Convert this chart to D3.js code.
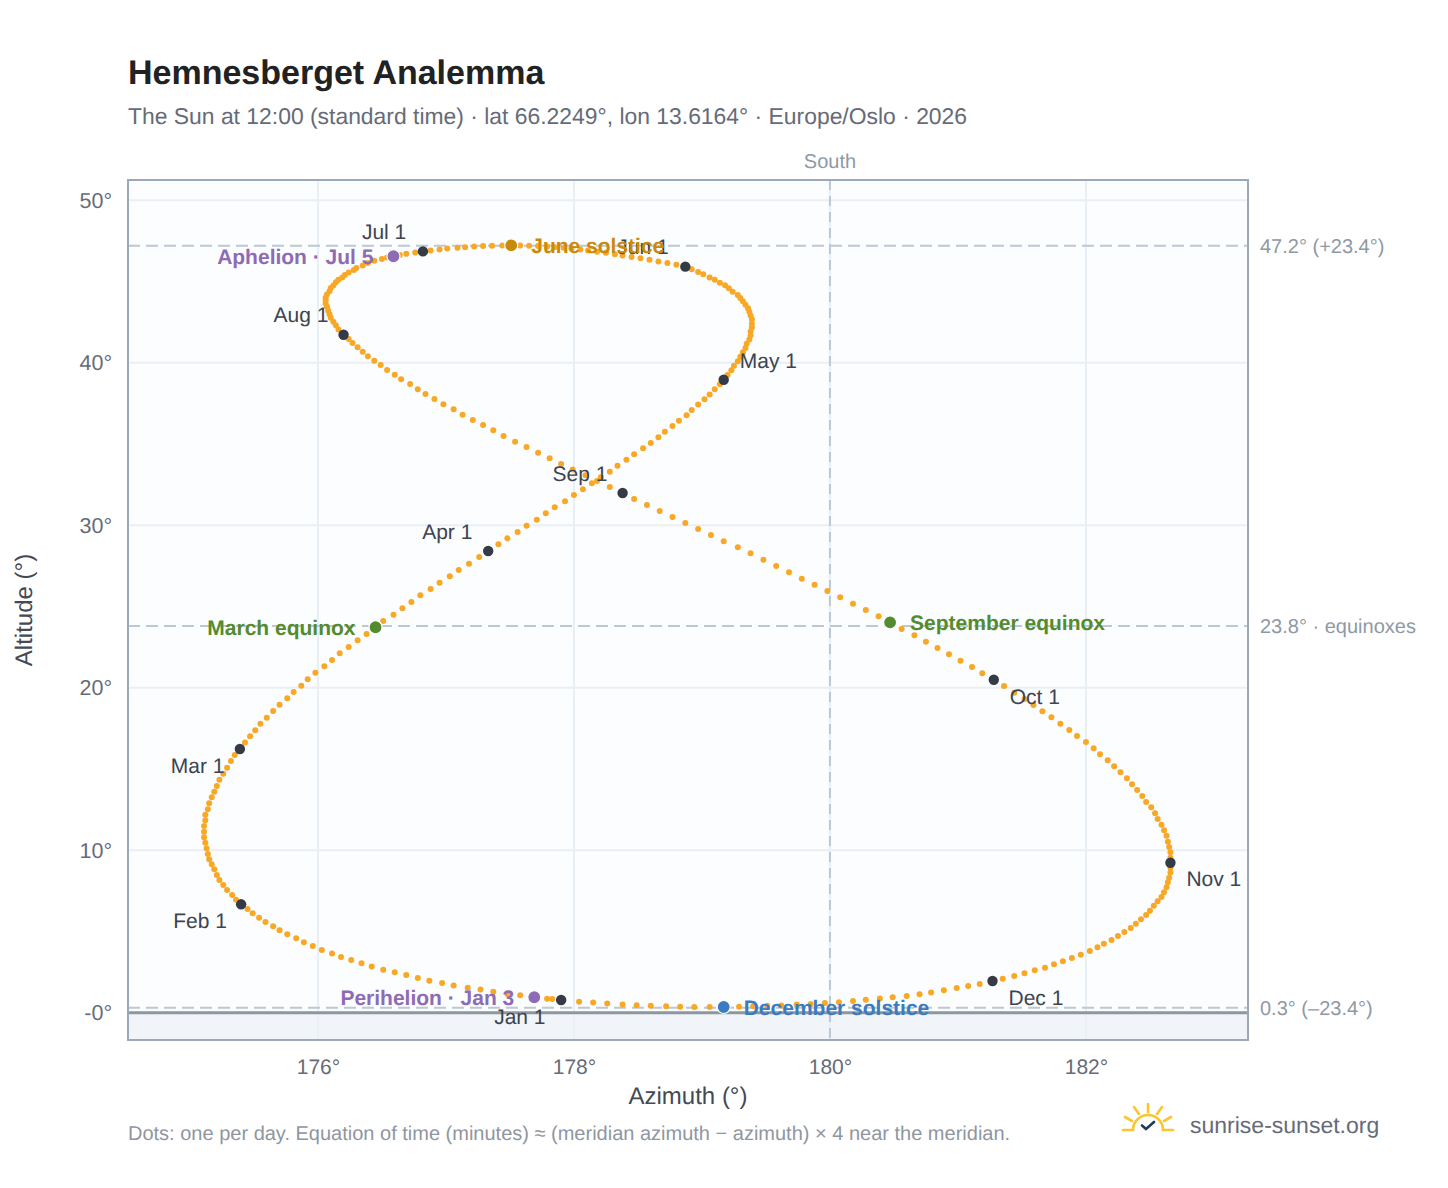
<!DOCTYPE html>
<html><head><meta charset="utf-8">
<script src="https://d3js.org/d3.v7.min.js"></script>
<style>html,body{margin:0;padding:0;background:#fff}svg{display:block}text{font-family:"Liberation Sans",Arial,sans-serif;text-rendering:geometricPrecision}</style>
</head><body><svg id="c" width="1448" height="1188"></svg>
<script>
const azJan=[177.90,177.79,177.69,177.58,177.48,177.37,177.27,177.17,177.06,176.97,176.87,176.78,176.69,176.60,176.51,176.42,176.34,176.26,176.18,176.11,176.03,175.96,175.89,175.83,175.76,175.70,175.65,175.59,175.54,175.49,175.45];
const altJan=[0.78,0.86,0.95,1.07,1.15,1.29,1.42,1.54,1.68,1.83,1.97,2.14,2.32,2.49,2.65,2.85,3.04,3.24,3.43,3.65,3.86,4.10,4.33,4.58,4.82,5.07,5.32,5.58,5.85,6.12,6.38];
const azFeb=[175.40,175.36,175.33,175.29,175.26,175.23,175.21,175.19,175.17,175.15,175.14,175.13,175.12,175.11,175.11,175.11,175.12,175.12,175.14,175.15,175.17,175.19,175.21,175.23,175.26,175.29,175.32,175.35];
const altFeb=[6.67,6.95,7.24,7.55,7.86,8.17,8.47,8.82,9.13,9.44,9.77,10.12,10.46,10.79,11.14,11.49,11.84,12.18,12.52,12.89,13.26,13.60,13.95,14.34,14.71,15.08,15.49,15.86];
const azMar=[175.39,175.43,175.47,175.51,175.55,175.60,175.65,175.70,175.76,175.81,175.87,175.92,175.98,176.05,176.11,176.17,176.24,176.31,176.38,176.45,176.51,176.59,176.66,176.73,176.80,176.88,176.95,177.03,177.10,177.18,177.26];
const altMar=[16.23,16.62,17.01,17.38,17.78,18.15,18.57,18.95,19.35,19.74,20.12,20.52,20.92,21.32,21.70,22.12,22.50,22.92,23.30,23.72,24.10,24.49,24.89,25.27,25.69,26.07,26.46,26.86,27.24,27.63,28.04];
const azApr=[177.33,177.41,177.48,177.56,177.63,177.71,177.78,177.85,177.93,178.00,178.07,178.14,178.21,178.28,178.34,178.41,178.47,178.54,178.60,178.66,178.71,178.77,178.82,178.88,178.92,178.97,179.02,179.06,179.10,179.14];
const altApr=[28.41,28.82,29.19,29.58,29.97,30.34,30.73,31.10,31.47,31.86,32.21,32.58,32.95,33.29,33.66,34.03,34.36,34.73,35.06,35.41,35.75,36.10,36.43,36.76,37.09,37.42,37.75,38.05,38.36,38.67];
const azMay=[179.17,179.20,179.23,179.25,179.28,179.30,179.32,179.34,179.35,179.37,179.38,179.38,179.39,179.39,179.39,179.38,179.37,179.36,179.34,179.32,179.30,179.28,179.24,179.21,179.18,179.14,179.10,179.06,179.01,178.97,178.92];
const altMay=[38.95,39.24,39.53,39.81,40.09,40.37,40.64,40.90,41.16,41.42,41.67,41.92,42.16,42.40,42.67,42.90,43.13,43.35,43.57,43.78,43.98,44.17,44.37,44.58,44.76,44.92,45.11,45.25,45.44,45.58,45.75];
const azJun=[178.87,178.80,178.73,178.66,178.59,178.52,178.45,178.38,178.32,178.25,178.18,178.11,178.05,177.98,177.92,177.85,177.79,177.72,177.65,177.58,177.51,177.44,177.36,177.29,177.22,177.15,177.09,177.01,176.95,176.88];
const altJun=[45.91,46.02,46.13,46.23,46.33,46.42,46.51,46.60,46.68,46.76,46.83,46.90,46.96,47.02,47.07,47.11,47.15,47.18,47.20,47.21,47.22,47.21,47.20,47.18,47.15,47.11,47.07,47.02,46.96,46.90];
const azJul=[176.82,176.76,176.69,176.64,176.59,176.54,176.50,176.44,176.39,176.35,176.30,176.28,176.24,176.21,176.19,176.16,176.14,176.12,176.10,176.09,176.07,176.06,176.06,176.06,176.07,176.08,176.09,176.10,176.12,176.14,176.16];
const altJul=[46.85,46.78,46.70,46.62,46.55,46.48,46.38,46.27,46.13,45.98,45.83,45.70,45.55,45.40,45.25,45.10,44.95,44.75,44.60,44.40,44.20,44.00,43.85,43.65,43.45,43.20,42.98,42.77,42.52,42.30,42.05];
const azAug=[176.20,176.24,176.27,176.31,176.35,176.39,176.44,176.49,176.54,176.60,176.65,176.72,176.78,176.84,176.91,176.98,177.06,177.13,177.21,177.29,177.37,177.45,177.54,177.63,177.72,177.81,177.90,177.99,178.09,178.18,178.28];
const altAug=[41.72,41.46,41.21,40.95,40.68,40.39,40.12,39.86,39.55,39.26,38.98,38.69,38.36,38.07,37.77,37.44,37.13,36.80,36.47,36.17,35.84,35.49,35.14,34.81,34.46,34.12,33.77,33.42,33.07,32.72,32.35];
const azSep=[178.38,178.47,178.57,178.67,178.77,178.87,178.97,179.07,179.17,179.28,179.38,179.48,179.58,179.68,179.78,179.88,179.98,180.08,180.18,180.28,180.38,180.47,180.56,180.66,180.75,180.84,180.93,181.02,181.11,181.19];
const altSep=[31.98,31.61,31.24,30.87,30.50,30.14,29.77,29.40,29.01,28.64,28.27,27.88,27.49,27.10,26.71,26.34,25.95,25.56,25.17,24.78,24.39,24.02,23.61,23.22,22.83,22.44,22.06,21.66,21.27,20.89];
const azOct=[181.28,181.36,181.44,181.52,181.59,181.66,181.73,181.80,181.87,181.93,182.00,182.06,182.11,182.17,182.22,182.27,182.32,182.36,182.40,182.44,182.47,182.51,182.54,182.56,182.59,182.61,182.63,182.64,182.65,182.66,182.66];
const altOct=[20.49,20.10,19.69,19.30,18.94,18.55,18.18,17.78,17.40,17.03,16.66,16.27,15.90,15.53,15.16,14.79,14.42,14.06,13.70,13.34,12.97,12.64,12.27,11.92,11.57,11.22,10.89,10.52,10.20,9.87,9.54];
const azNov=[182.66,182.66,182.66,182.65,182.64,182.63,182.61,182.59,182.56,182.53,182.50,182.47,182.43,182.39,182.35,182.30,182.25,182.20,182.14,182.09,182.03,181.96,181.89,181.82,181.75,181.68,181.60,181.52,181.44,181.35];
const altNov=[9.23,8.92,8.62,8.31,8.02,7.72,7.41,7.12,6.86,6.58,6.28,6.01,5.75,5.48,5.21,4.97,4.72,4.47,4.25,4.02,3.80,3.57,3.37,3.16,2.98,2.77,2.61,2.42,2.26,2.09];
const azDec=[181.27,181.17,181.08,180.99,180.89,180.79,180.70,180.60,180.49,180.39,180.28,180.18,180.07,179.96,179.85,179.74,179.62,179.51,179.40,179.29,179.17,179.06,178.94,178.83,178.72,178.60,178.49,178.38,178.26,178.15,178.04];
const altDec=[1.95,1.77,1.64,1.52,1.38,1.25,1.13,1.03,0.95,0.87,0.79,0.72,0.65,0.59,0.54,0.50,0.45,0.42,0.39,0.37,0.35,0.35,0.35,0.37,0.39,0.42,0.46,0.50,0.56,0.62,0.68];
const azExtra=[177.83];
const altExtra=[0.84];

const xTickValues=[176,178,180,182];
const yTickValues=[0,10,20,30,40,50];
const yTickLabels=["-0°","10°","20°","30°","40°","50°"];
const refAltitudes=[47.2,23.8,0.3];
const refLabels=["47.2° (+23.4°)","23.8° · equinoxes","0.3° (–23.4°)"];
const monthNames=["Jan","Feb","Mar","Apr","May","Jun","Jul","Aug","Sep","Oct","Nov","Dec"];
const monthOffsets=[[-67,24],[-68,24],[-69,24],[-66,-12],[16,-12],[-68,-13],[-61,-12],[-70,-13],[-70,-12],[16,24],[16,23],[16,24]];
const specialNames=["Perihelion · Jan 3","March equinox","June solstice","Aphelion · Jul 5","September equinox","December solstice"];
const specialMonth=[0,2,5,6,8,11];
const specialDay=[3,20,21,5,22,21];
const specialColor=["#8e6bb5","#558b2f","#c98a0a","#8e6bb5","#558b2f","#3b7bbf"];
const specialAnchor=["end","end","start","end","start","start"];

const azs=[azJan,azFeb,azMar,azApr,azMay,azJun,azJul,azAug,azSep,azOct,azNov,azDec];
const alts=[altJan,altFeb,altMar,altApr,altMay,altJun,altJul,altAug,altSep,altOct,altNov,altDec];
const days=azs.flatMap((a,m)=>a.map((v,i)=>({az:v,alt:alts[m][i]})));
azExtra.forEach((v,i)=>days.push({az:v,alt:altExtra[i]}));

const L=128,R=1248,T=180,B=1040;
const x=d3.scaleLinear().domain([174.516,183.266]).range([L,R]);
const y=d3.scaleLinear().domain([-1.68,51.243]).range([B,T]);
const svg=d3.select("#c");

svg.append("rect").attr("x",L).attr("y",T).attr("width",R-L).attr("height",B-T).attr("fill","#fbfdff");
svg.append("rect").attr("x",L).attr("y",y(0)).attr("width",R-L).attr("height",B-y(0)).attr("fill","#f1f5f9");

const grid=svg.append("g").attr("stroke","#e9eff4").attr("stroke-width",2);
grid.selectAll("line.v").data(xTickValues).join("line").attr("class","v").attr("x1",d=>x(d)).attr("x2",d=>x(d)).attr("y1",T).attr("y2",B);
grid.selectAll("line.h").data(yTickValues).join("line").attr("class","h").attr("x1",L).attr("x2",R).attr("y1",d=>y(d)).attr("y2",d=>y(d));

svg.append("line").attr("x1",x(180)).attr("x2",x(180)).attr("y1",T).attr("y2",B)
  .attr("stroke","#bcc8d4").attr("stroke-width",2).attr("stroke-dasharray","10 6");
svg.selectAll("line.ref").data(refAltitudes).join("line").attr("class","ref")
  .attr("x1",L).attr("x2",R).attr("y1",d=>y(d)).attr("y2",d=>y(d))
  .attr("stroke","#bcc8d4").attr("stroke-width",2).attr("stroke-dasharray","12 6");
svg.append("line").attr("x1",L).attr("x2",R).attr("y1",y(0)).attr("y2",y(0)).attr("stroke","#8e969e").attr("stroke-width",3);
svg.append("rect").attr("x",L).attr("y",T).attr("width",R-L).attr("height",B-T).attr("fill","none").attr("stroke","#9ba8b8").attr("stroke-width",2);

const xAxis=d3.axisBottom(x).tickValues(xTickValues).tickSize(0).tickPadding(0).tickFormat(d=>d+"°");
const gx=svg.append("g").attr("transform",`translate(0,${B})`).call(xAxis);
gx.select(".domain").remove();
gx.selectAll("text").attr("y",19).attr("dy","0.71em").attr("fill","#666b78").style("font-size","21px").style("font-family",'"Liberation Sans"');
const yAxis=d3.axisLeft(y).tickValues(yTickValues).tickSize(0).tickPadding(0).tickFormat((d,i)=>yTickLabels[i]);
const gy=svg.append("g").attr("transform",`translate(${L},0)`).call(yAxis);
gy.select(".domain").remove();
gy.selectAll("text").attr("x",-16).attr("fill","#666b78").style("font-size","21.5px").style("font-family",'"Liberation Sans"');

svg.append("text").attr("x",688).attr("y",1104).attr("text-anchor","middle").attr("fill","#444a55").style("font-size","24px").text("Azimuth (°)");
svg.append("text").attr("transform","translate(32,610) rotate(-90)").attr("text-anchor","middle").attr("fill","#444a55").style("font-size","24px").text("Altitude (°)");
svg.append("text").attr("x",830).attr("y",168).attr("text-anchor","middle").attr("fill","#8f99a5").style("font-size","20px").text("South");
svg.selectAll("text.ref").data(refAltitudes).join("text").attr("class","ref")
  .attr("x",1260).attr("y",d=>y(d)+7).attr("fill","#8f99a5").style("font-size","20px").text((d,i)=>refLabels[i]);

svg.append("g").selectAll("circle").data(days).join("circle")
  .attr("cx",d=>x(d.az)).attr("cy",d=>y(d.alt)).attr("r",3).attr("fill","#f9a825");

const firsts=monthNames.map((n,m)=>({n,m,az:azs[m][0],alt:alts[m][0]}));
svg.append("g").selectAll("circle").data(firsts).join("circle")
  .attr("cx",d=>x(d.az)).attr("cy",d=>y(d.alt)).attr("r",5.2).attr("fill","#343a46");
svg.append("g").selectAll("text").data(firsts).join("text")
  .attr("x",d=>x(d.az)+monthOffsets[d.m][0]).attr("y",d=>y(d.alt)+monthOffsets[d.m][1])
  .attr("fill","#3d4450").style("font-size","21px").text(d=>d.n+" 1");

const specials=specialNames.map((n,i)=>({n,i,az:azs[specialMonth[i]][specialDay[i]-1],alt:alts[specialMonth[i]][specialDay[i]-1]}));
svg.append("g").selectAll("circle").data(specials).join("circle")
  .attr("cx",d=>x(d.az)).attr("cy",d=>y(d.alt)).attr("r",6.5).attr("fill",d=>specialColor[d.i]).attr("stroke","#fff").attr("stroke-width",1.2);
svg.append("g").selectAll("text").data(specials).join("text")
  .attr("x",d=>x(d.az)+(specialAnchor[d.i]==="end"?-20:20)).attr("y",d=>y(d.alt)+7.5)
  .attr("text-anchor",d=>specialAnchor[d.i]).attr("fill",d=>specialColor[d.i])
  .style("font-size","21px").style("font-weight","700").text(d=>d.n);

svg.append("text").attr("x",128).attr("y",84).attr("fill","#222").style("font-size","34px").style("font-weight","700").text("Hemnesberget Analemma");
svg.append("text").attr("x",128).attr("y",124).attr("fill","#666b78").style("font-size","22.9px").text("The Sun at 12:00 (standard time) · lat 66.2249°, lon 13.6164° · Europe/Oslo · 2026");
svg.append("text").attr("x",128).attr("y",1140).attr("fill","#8f96a0").style("font-size","20px").text("Dots: one per day. Equation of time (minutes) ≈ (meridian azimuth − azimuth) × 4 near the meridian.");
svg.append("text").attr("x",1190).attr("y",1133).attr("fill","#666b78").style("font-size","23px").text("sunrise-sunset.org");

const logo=svg.append("g").attr("transform","translate(1148,1130)").attr("fill","none").attr("stroke","#fcc52e").attr("stroke-width",2.6).attr("stroke-linecap","round");
logo.append("path").attr("d","M-25,0H-15A15,15 0 0 1 15,0H25");
logo.append("path").attr("d","M0,-26V-18M-14,-23L-9,-16M14,-23L9,-16M-23,-13L-16,-9M23,-13L16,-9");
logo.append("path").attr("d","M-6,-4.5L-2,-1L6,-8").attr("stroke","#1f3a5f");
</script></body></html>
